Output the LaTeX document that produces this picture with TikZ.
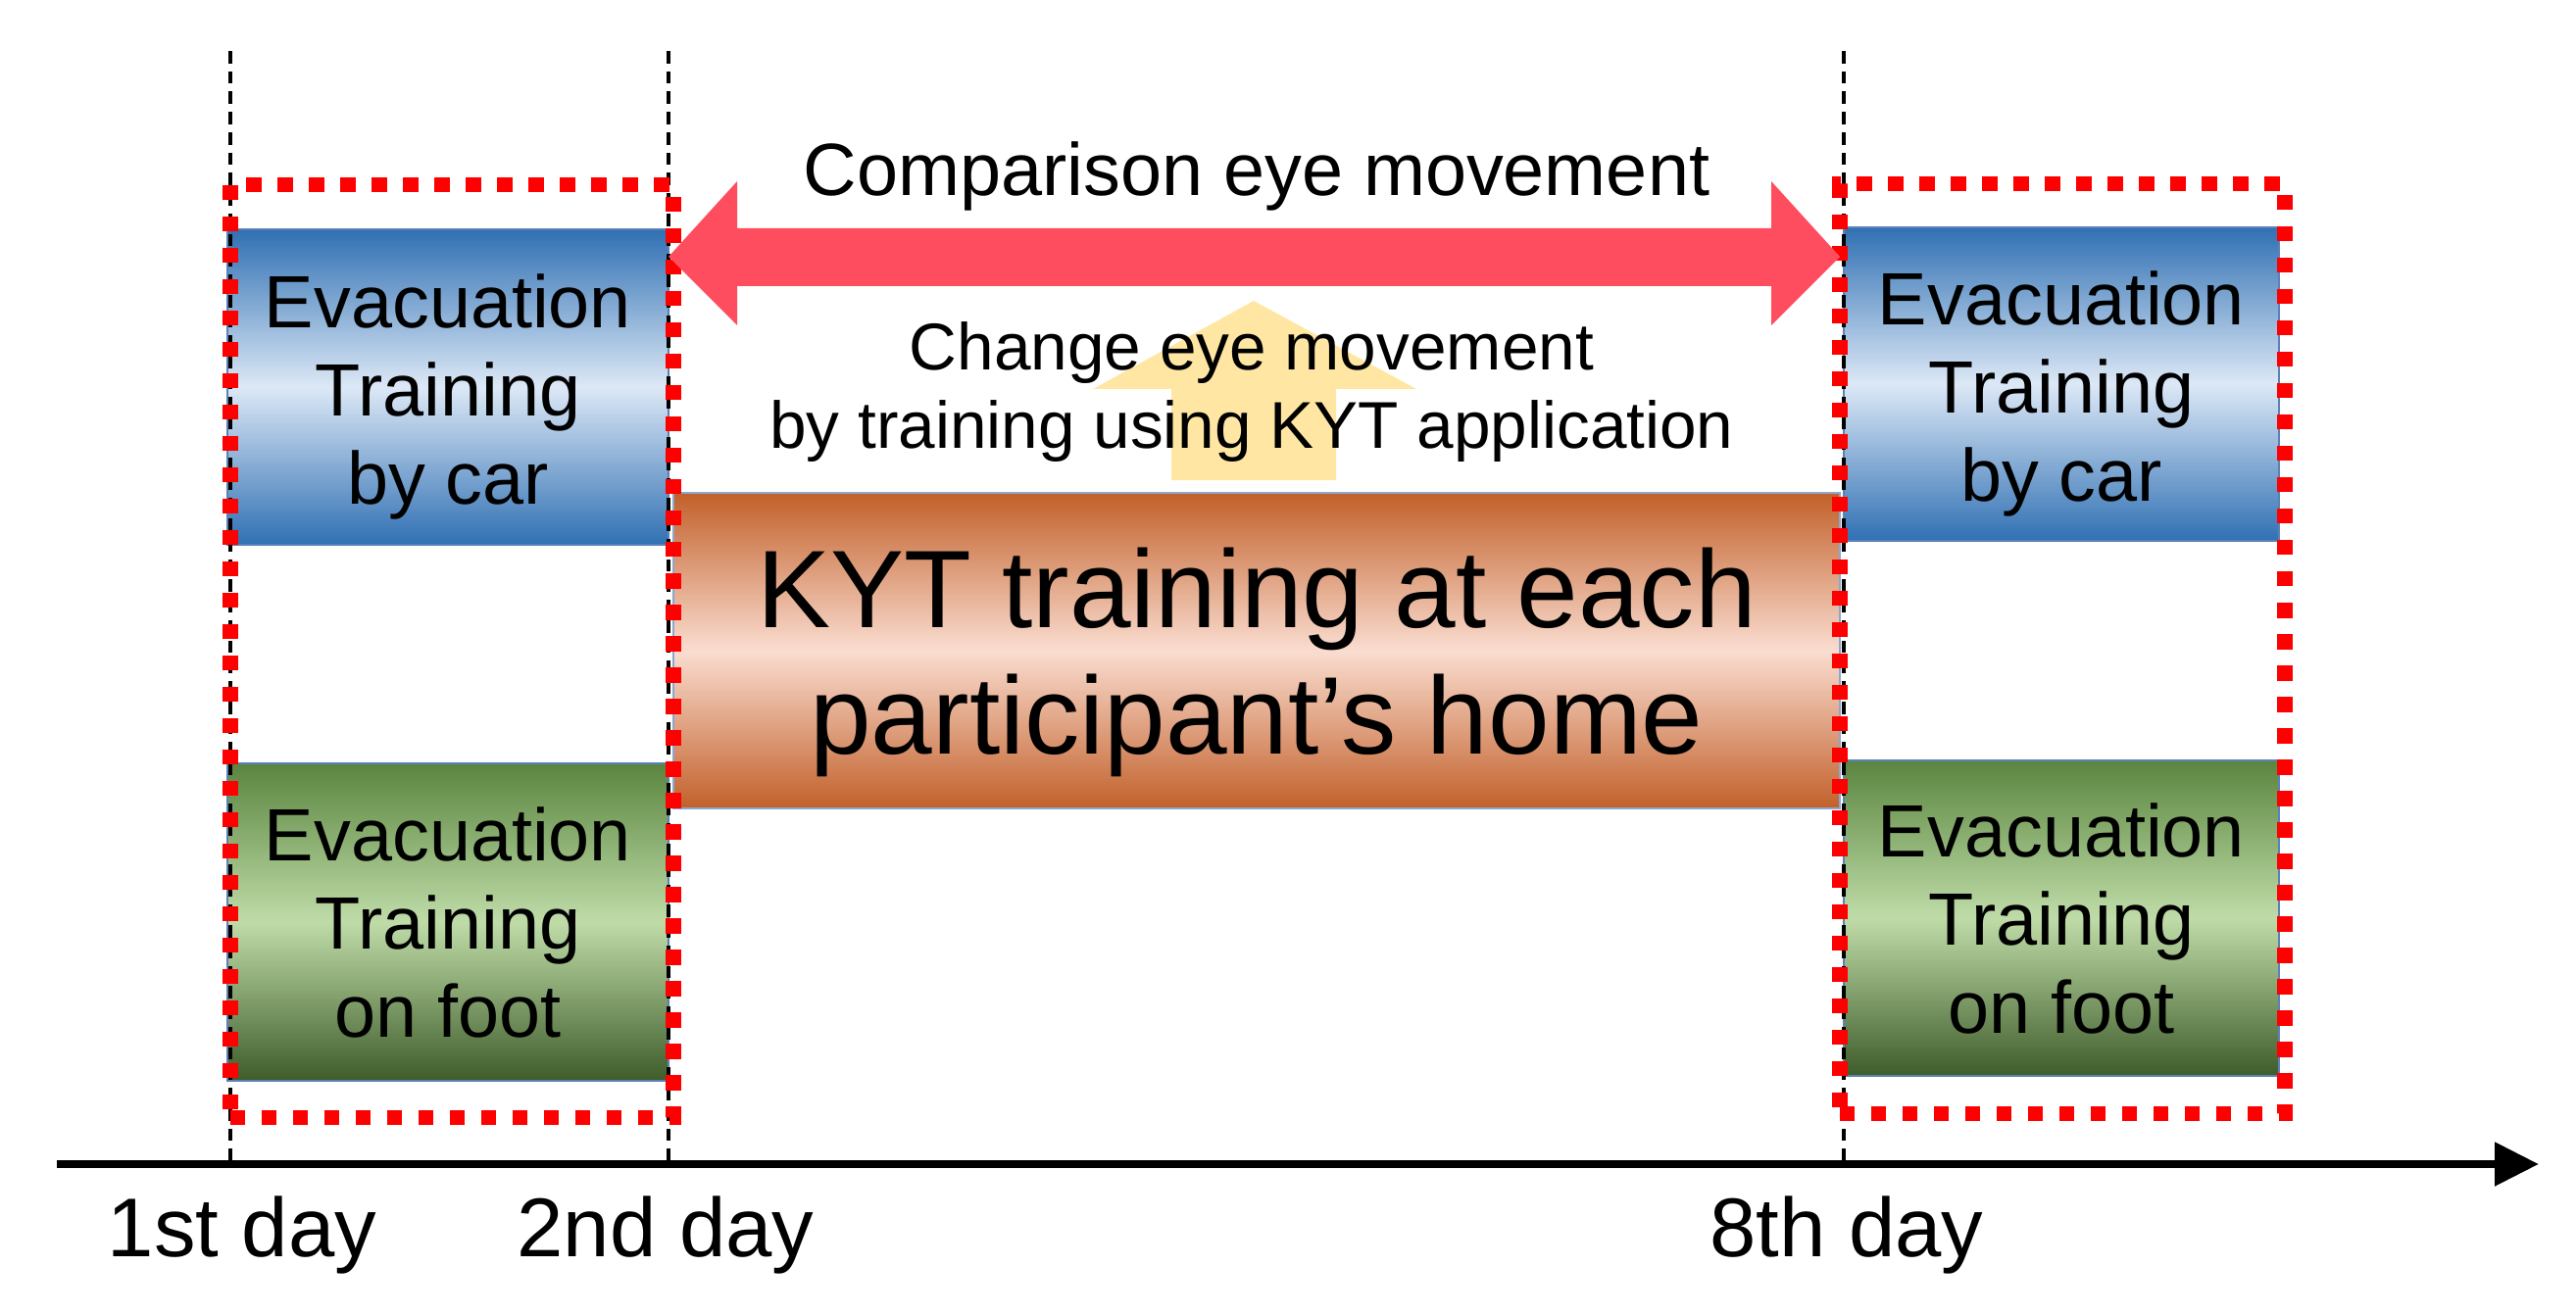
\documentclass[tikz,border=0pt]{standalone}
\usepackage{fontspec}
\setmainfont{Liberation Sans}
\usetikzlibrary{arrows.meta}
\definecolor{blueD}{HTML}{3070B3}
\definecolor{blueL}{HTML}{DCE8F6}
\definecolor{greenT}{HTML}{5A853F}
\definecolor{greenL}{HTML}{BFDCA8}
\definecolor{greenB}{HTML}{3E5C2A}
\definecolor{brownD}{HTML}{C2602A}
\definecolor{brownL}{HTML}{FADDD0}
\definecolor{edgeC}{HTML}{5B82B8}
\definecolor{arrowR}{HTML}{FF4D60}
\definecolor{arrowY}{HTML}{FFE7A3}
\begin{document}
\begin{tikzpicture}[x=0.01cm,y=-0.01cm,
  box/.style={rectangle, draw=edgeC, line width=0.6pt, inner sep=0pt, align=center,
    font=\fontsize{21.5}{25.6}\selectfont},
  carbox/.style={box, top color=blueD, bottom color=blueD, middle color=blueL},
  footbox/.style={box, top color=greenT, bottom color=greenB, middle color=greenL},
  kytbox/.style={box, top color=brownD, bottom color=brownD, middle color=brownL,
    draw=edgeC!70, font=\fontsize{32}{36.7}\selectfont},
  reddot/.style={rectangle, draw=red, line width=4.4pt, dash pattern=on 4.4pt off 4.7pt, inner sep=0pt},
  vdash/.style={black, line width=0.9pt, dash pattern=on 3.6pt off 2.3pt},
  axisline/.style={black, line width=2.4pt, -{Triangle[length=0.45cm,width=0.43cm]}},
  daylabel/.style={anchor=base, font=\fontsize{24.2}{29}\selectfont},
]
\useasboundingbox (0,0) rectangle (2628,1343);

% boxes
\node[carbox, minimum width=4.5cm, minimum height=3.21cm] (carL) at (457,395) {\rule{0pt}{21.5pt}Evacuation\\Training\\by car};
\node[footbox, minimum width=4.5cm, minimum height=3.24cm] (footL) at (457,941) {Evacuation\\Training\\on foot};
\node[carbox, minimum width=4.44cm, minimum height=3.2cm] (carR) at (2103,392) {\rule{0pt}{21.5pt}Evacuation\\Training\\by car};
\node[footbox, minimum width=4.44cm, minimum height=3.22cm] (footR) at (2103,937) {Evacuation\\Training\\on foot};
\node[kytbox, minimum width=11.9cm, minimum height=3.22cm] (kyt) at (1282,664) {\rule{0pt}{30pt}KYT training at each\\participant’s home};

% yellow arrow
\fill[arrowY] (1195,490) -- (1195,397) -- (1115,397) -- (1279,307) -- (1445,397) -- (1363,397) -- (1363,490) -- cycle;
\node[align=center, font=\fontsize{19.2}{22.5}\selectfont] (change) at (1277,400) {Change eye movement\\by training using KYT application};

% day lines
\coordinate (t1) at (235,52);  \coordinate (b1) at (235,1187);
\coordinate (t2) at (682,52);  \coordinate (b2) at (682,1187);
\coordinate (t3) at (1881,52); \coordinate (b3) at (1881,1187);
\draw[vdash] (t1) -- (b1);
\draw[vdash] (t2) -- (b2);
\draw[vdash] (t3) -- (b3);

% red dotted groups
\node[reddot, minimum width=4.52cm, minimum height=9.51cm] (grpL) at (461,664.5) {};
\node[reddot, minimum width=4.54cm, minimum height=9.48cm] (grpR) at (2104,662) {};

% comparison double arrow
\fill[arrowR] (682,262) -- (752,185) -- (752,233) -- (1807,233) -- (1807,185) -- (1877,262)
  -- (1807,332) -- (1807,292) -- (752,292) -- (752,332) -- cycle;
\node[anchor=base, font=\fontsize{21.5}{25.6}\selectfont] (comp) at (1282,200) {Comparison eye movement};

% time axis
\coordinate (ax0) at (58,1188);
\coordinate (ax1) at (2590,1188);
\draw[axisline] (ax0) -- (ax1);
\node[daylabel] (d1) at (247,1282) {1st day};
\node[daylabel] (d2) at (679,1282) {2nd day};
\node[daylabel] (d8) at (1884,1282) {8th day};
\end{tikzpicture}
\end{document}
